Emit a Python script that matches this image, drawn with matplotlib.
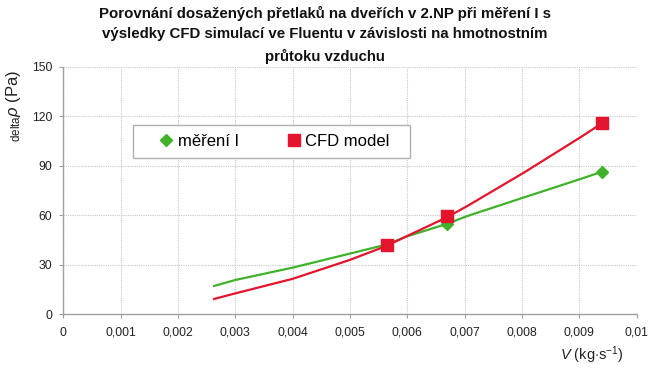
import matplotlib
matplotlib.use("Agg")
import matplotlib.pyplot as plt
from matplotlib.lines import Line2D
from matplotlib.patches import Rectangle
from matplotlib.ticker import FixedLocator, FuncFormatter

plt.rcParams['font.family'] = ['Liberation Sans', 'DejaVu Sans']
plt.rcParams['mathtext.fontset'] = 'custom'
plt.rcParams['mathtext.rm'] = 'Liberation Sans'
plt.rcParams['mathtext.it'] = 'Liberation Sans:italic'

title = "Porovnání dosažených přetlaků na dveřích v 2.NP při měření I s\nvýsledky CFD simulací ve Fluentu v závislosti na hmotnostním\nprůtoku vzduchu"

# measured points
meas_x = [0.00564, 0.00669, 0.00940]
meas_y = [42.3, 55.0, 86.5]
cfd_x = [0.00564, 0.00669, 0.00940]
cfd_y = [42.3, 59.3, 115.9]

# trend curves
meas_curve_x = [0.00263, 0.0030, 0.0040, 0.0050, 0.00564, 0.0060, 0.00669, 0.00704, 0.00804, 0.00903, 0.00940]
meas_curve_y = [17.2, 20.8, 28.3, 36.8, 42.3, 47.3, 54.8, 59.5, 70.9, 82.1, 86.5]
cfd_curve_x = [0.00263, 0.0030, 0.0040, 0.0050, 0.00564, 0.0060, 0.00669, 0.00704, 0.00804, 0.00903, 0.00940]
cfd_curve_y = [9.3, 12.7, 21.5, 33.0, 41.5, 47.5, 58.8, 65.5, 86.0, 107.5, 115.9]

legend_labels = ["měření I", "CFD model"]
x_ticks = [0, 0.001, 0.002, 0.003, 0.004, 0.005, 0.006, 0.007, 0.008, 0.009, 0.01]
y_ticks = [0, 30, 60, 90, 120, 150]

green = '#3fb22a'
red = '#e3142b'

fig = plt.figure(figsize=(6.5, 3.69), dpi=100)
ax = fig.add_axes([0.0974, 0.1482, 0.882, 0.6707])

ax.plot(meas_curve_x, meas_curve_y, color=green, lw=1.6, zorder=3)
ax.plot(cfd_curve_x, cfd_curve_y, color=red, lw=1.6, zorder=3)
ax.plot(meas_x, meas_y, 'D', color=green, ms=6.5, zorder=4, linestyle='none')
ax.plot(cfd_x, cfd_y, 's', color=red, ms=8, zorder=5, linestyle='none')

ax.set_xlim(0, 0.01)
ax.set_ylim(0, 150)
ax.xaxis.set_major_locator(FixedLocator(x_ticks))
ax.yaxis.set_major_locator(FixedLocator(y_ticks))

def xfmt(v, pos):
    if abs(v) < 1e-12:
        return "0"
    s = ("%.3f" % v).rstrip('0')
    return s.replace('.', ',')
ax.xaxis.set_major_formatter(FuncFormatter(xfmt))

ax.grid(True, color='#c8c8c8', linestyle=(0, (1, 1)), lw=0.8)
ax.set_axisbelow(True)
for s in ['top', 'right']:
    ax.spines[s].set_visible(False)
for s in ['left', 'bottom']:
    ax.spines[s].set_color('#a0a0a0')
    ax.spines[s].set_linewidth(1.0)
ax.tick_params(axis='both', colors='#a0a0a0', labelcolor='#222222', labelsize=8.8, length=3, width=0.8)
ax.tick_params(axis='x', pad=6)
ax.tick_params(axis='y', pad=5)

fig.suptitle(title, fontsize=10.8, fontweight='bold', y=0.985, linespacing=1.6, color='#111111')

ax.set_ylabel(r'$_{\mathrm{delta}}\mathit{\rho}$ (Pa)', fontsize=12, color='#222222')
ax.yaxis.set_label_coords(-0.070, 0.843)

ax.text(0.922, -0.164, r'$\mathit{V}$ (kg$\cdot$s$^{\mathrm{-1}}$)', transform=ax.transAxes,
        fontsize=10.5, ha='center', va='center', color='#222222')

# legend frame
ax.add_patch(Rectangle((0.122, 0.630), 0.483, 0.135, transform=ax.transAxes, facecolor='white',
                       edgecolor='#b0b0b0', lw=1.0, zorder=6))
handles = [Line2D([], [], marker='D', color=green, linestyle='none', ms=6.5),
           Line2D([], [], marker='s', color=red, linestyle='none', ms=8)]
leg = ax.legend(handles, legend_labels, loc='center', bbox_to_anchor=(0.367, 0.6975),
                ncol=2, fontsize=12, frameon=False, handlelength=1.0, handletextpad=0.2,
                columnspacing=2.8, borderaxespad=0, borderpad=0)
leg.set_zorder(7)

fig.savefig('out.png', dpi=100)
